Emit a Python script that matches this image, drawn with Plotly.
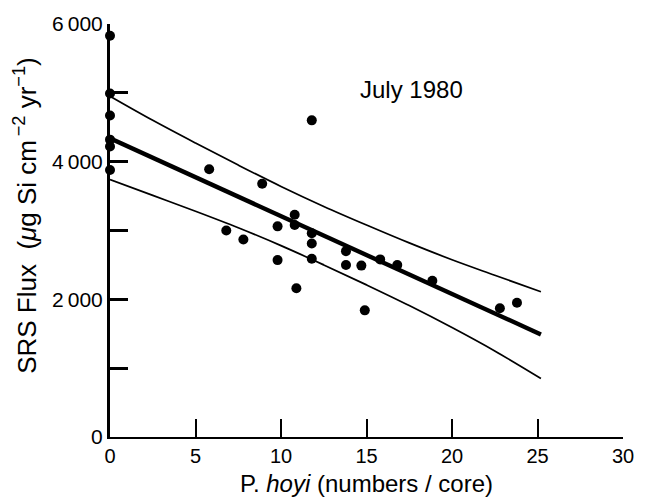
import plotly.graph_objects as go

# Observed data points (P. hoyi numbers/core vs SRS flux)
hoyi = [0, 0, 0, 0, 0, 0,
        5.8, 8.9, 11.8, 6.8, 7.8, 9.8, 10.8, 10.8, 11.8, 11.8,
        9.8, 11.8, 13.8, 13.8, 14.7, 10.9, 14.9, 15.8, 16.8, 18.85, 22.8, 23.8]
flux = [5830, 4990, 4670, 4320, 4220, 3880,
        3890, 3680, 4600, 3000, 2870, 3060, 3230, 3080, 2960, 2810,
        2570, 2590, 2700, 2500, 2490, 2160, 1840, 2580, 2500, 2270, 1870, 1950]

# Regression line (end points)
fit_x = [0, 25.2]
fit_y = [4340, 1490]

# Confidence band
band_x = [0, 2.5, 5, 7.5, 10, 12.5, 15, 17.5, 20, 22.5, 25.2]
band_upper = [4950, 4600, 4270, 3950, 3640, 3350, 3080, 2820, 2575, 2350, 2110]
band_lower = [3740, 3510, 3280, 3040, 2780, 2500, 2210, 1910, 1590, 1250, 850]

x_ticks = [0, 5, 10, 15, 20, 25, 30]
y_ticks = [0, 1000, 2000, 3000, 4000, 5000, 6000]
y_ticktext = ["0", "", "2\u2009000", "", "4\u2009000", "", "6\u2009000"]

FONT = "Liberation Sans, Arial, Helvetica, sans-serif"

fig = go.Figure()
fig.add_trace(go.Scatter(x=band_x, y=band_upper, mode="lines",
                         line=dict(color="black", width=1.7, shape="spline"),
                         hoverinfo="skip"))
fig.add_trace(go.Scatter(x=band_x, y=band_lower, mode="lines",
                         line=dict(color="black", width=1.7, shape="spline"),
                         hoverinfo="skip"))
fig.add_trace(go.Scatter(x=fit_x, y=fit_y, mode="lines",
                         line=dict(color="black", width=4.4)))
fig.add_trace(go.Scatter(x=hoyi, y=flux, mode="markers",
                         marker=dict(color="black", size=10),
                         cliponaxis=False))

L, R, T, B = 110, 16, 19, 61
W, H = 646, 498
plot_w = W - L - R
plot_h = H - T - B

def px_to_paper_x(px):
    return (px - L) / plot_w

def px_to_paper_y(py):
    return (H - B - py) / plot_h

fig.update_layout(
    width=W, height=H,
    margin=dict(l=L, r=R, t=T, b=B),
    paper_bgcolor="white", plot_bgcolor="white",
    showlegend=False,
    font=dict(family=FONT, color="black", size=20),
    xaxis=dict(range=[0, 30], tickvals=x_ticks, ticks="inside", ticklen=18,
               tickwidth=2, tickcolor="black", showline=True, linewidth=2,
               linecolor="black", showgrid=False, zeroline=False,
               tickfont=dict(size=20)),
    yaxis=dict(range=[0, 6000], tickvals=y_ticks, ticktext=y_ticktext,
               ticks="inside", ticklen=18, tickwidth=2.5, tickcolor="black",
               showline=True, linewidth=3, linecolor="black", showgrid=False,
               zeroline=False, tickfont=dict(size=21)),
)

fig.add_annotation(text="July 1980", x=px_to_paper_x(415.5), y=px_to_paper_y(85),
                   xref="paper", yref="paper", showarrow=False,
                   font=dict(size=24), xanchor="center", yanchor="middle")
fig.add_annotation(text="P. <i>hoyi</i> (numbers / core)",
                   x=px_to_paper_x(370), y=px_to_paper_y(484), xref="paper", yref="paper",
                   showarrow=False, font=dict(size=24),
                   xanchor="center", yanchor="middle")
fig.add_annotation(text="SRS Flux  (<i>\u03bc</i>g Si cm<sup>\u2009\u22122</sup> yr<sup>\u22121</sup>)",
                   x=px_to_paper_x(25), y=px_to_paper_y(213), xref="paper", yref="paper",
                   showarrow=False, font=dict(size=26), textangle=-90,
                   xanchor="center", yanchor="middle")

fig.write_html("out.html")
